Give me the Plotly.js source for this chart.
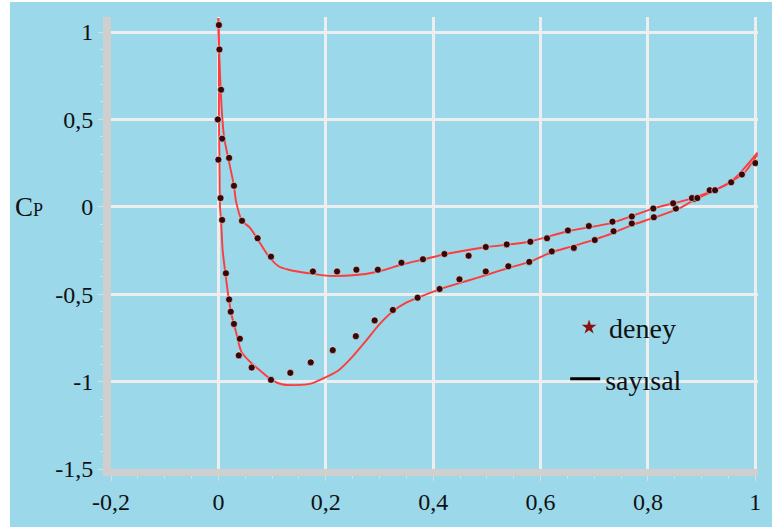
<!DOCTYPE html>
<html>
<head>
<meta charset="utf-8">
<script src="https://cdn.plot.ly/plotly-3.0.1.min.js"></script>
<style>
  html, body { margin: 0; padding: 0; background: #ffffff; width: 772px; height: 527px; overflow: hidden; }
  #chart { position: absolute; left: 10px; top: 2px; width: 762px; height: 525px; }
</style>
</head>
<body>
<div id="chart"></div>
<script>
// Numerical (sayısal) curve, suction side
const xSayisalA = [0.000, 0.001, 0.001, 0.002, 0.003, 0.005, 0.008, 0.013, 0.019, 0.024, 0.034, 0.043, 0.060, 0.079, 0.099, 0.118, 0.144, 0.174, 0.200, 0.224, 0.249, 0.274, 0.299, 0.324, 0.349, 0.380, 0.424, 0.467, 0.499, 0.540, 0.579, 0.621, 0.660, 0.697, 0.735, 0.770, 0.809, 0.854, 0.884, 0.921, 0.953, 0.981, 1.004];
const cpSayisalA = [1.08, 0.84, 0.50, 0.26, 0.00, -0.08, -0.25, -0.38, -0.52, -0.61, -0.73, -0.83, -0.89, -0.94, -0.99, -1.015, -1.02, -1.01, -0.975, -0.935, -0.86, -0.77, -0.675, -0.60, -0.55, -0.51, -0.46, -0.42, -0.39, -0.35, -0.315, -0.26, -0.225, -0.19, -0.15, -0.105, -0.065, -0.015, 0.035, 0.09, 0.14, 0.20, 0.30];
// Numerical (sayısal) curve, pressure side
const xSayisalB = [0.000, 0.002, 0.0075, 0.011, 0.019, 0.029, 0.033, 0.044, 0.059, 0.075, 0.093, 0.112, 0.131, 0.168, 0.206, 0.256, 0.299, 0.342, 0.383, 0.424, 0.499, 0.579, 0.650, 0.735, 0.809, 0.884, 0.953, 1.004];
const cpSayisalB = [1.08, 0.84, 0.50, 0.39, 0.27, 0.12, 0.03, -0.08, -0.12, -0.195, -0.28, -0.34, -0.36, -0.38, -0.395, -0.39, -0.37, -0.33, -0.30, -0.27, -0.23, -0.20, -0.14, -0.09, -0.01, 0.05, 0.14, 0.31];

// Experimental (deney) points, suction side
const xDeneyA = [0.001, 0.002, 0.005, -0.001, 0.007, 0.000, 0.004, 0.007, 0.014, 0.020, 0.023, 0.029, 0.040, 0.038, 0.062, 0.098, 0.134, 0.172, 0.213, 0.256, 0.291, 0.325, 0.371, 0.412, 0.449, 0.498, 0.540, 0.579, 0.621, 0.662, 0.701, 0.736, 0.770, 0.811, 0.852, 0.886, 0.955, 1.000];
const cpDeneyA = [1.04, 0.90, 0.67, 0.50, 0.39, 0.27, 0.05, -0.075, -0.38, -0.53, -0.60, -0.67, -0.755, -0.85, -0.92, -0.99, -0.95, -0.89, -0.82, -0.74, -0.65, -0.59, -0.52, -0.47, -0.415, -0.37, -0.34, -0.315, -0.255, -0.235, -0.19, -0.14, -0.095, -0.06, -0.01, 0.045, 0.14, 0.25];
// Experimental (deney) points, pressure side
const xDeneyB = [0.020, 0.029, 0.044, 0.073, 0.098, 0.176, 0.221, 0.257, 0.297, 0.341, 0.381, 0.421, 0.466, 0.498, 0.537, 0.581, 0.612, 0.651, 0.690, 0.734, 0.770, 0.810, 0.847, 0.882, 0.892, 0.915, 0.925, 0.975];
const cpDeneyB = [0.28, 0.12, -0.08, -0.18, -0.285, -0.37, -0.37, -0.36, -0.36, -0.32, -0.30, -0.27, -0.28, -0.23, -0.215, -0.20, -0.18, -0.135, -0.11, -0.085, -0.055, -0.01, 0.02, 0.05, 0.05, 0.095, 0.095, 0.185];

// Tick labels
const xTickVals = [-0.2, 0, 0.2, 0.4, 0.6, 0.8, 1];
const xTickText = ['-0,2', '0', '0,2', '0,4', '0,6', '0,8', '1'];
const yTickVals = [1, 0.5, 0, -0.5, -1, -1.5];
const yTickText = ['1', '0,5', '0', '-0,5', '-1', '-1,5'];

const legendDeney = 'deney';
const legendSayisal = 'sayısal';

const bg = '#9bd8ea';
const red = '#ff3b3b';
const serif = "Liberation Serif";

const traces = [
  { x: xSayisalA, y: cpSayisalA, mode: 'lines', line: { color: red, width: 1.9, shape: 'spline', smoothing: 0.7 }, showlegend: false, hoverinfo: 'skip' },
  { x: xSayisalB, y: cpSayisalB, mode: 'lines', line: { color: red, width: 1.9, shape: 'spline', smoothing: 0.7 }, showlegend: false, hoverinfo: 'skip' },
  { x: xDeneyA.concat(xDeneyB), y: cpDeneyA.concat(cpDeneyB), mode: 'markers',
    marker: { symbol: 'circle', size: 7, color: '#3a0505', line: { color: 'rgba(255,255,255,0.55)', width: 1 } },
    showlegend: false },
  { x: [null], y: [null], mode: 'markers', name: legendDeney,
    marker: { symbol: 'star', size: 11, color: '#8b1010' }, legend: 'legend' },
  { x: [null], y: [null], mode: 'lines', name: legendSayisal,
    line: { color: '#000000', width: 3 }, legend: 'legend2' }
];

const layout = {
  width: 762, height: 525,
  margin: { l: 101, r: 14, t: 15, b: 58 },
  paper_bgcolor: bg, plot_bgcolor: bg,
  font: { family: serif, size: 24, color: '#111111' },
  showlegend: true,
  xaxis: {
    range: [-0.2, 1.005], tickmode: 'array', tickvals: xTickVals, ticktext: xTickText,
    showgrid: true, gridcolor: '#eeeeee', gridwidth: 3,
    zeroline: false, showline: true, linecolor: '#cfcfcf', linewidth: 7,
    ticks: 'outside', ticklen: 5, tickwidth: 1, tickcolor: '#dddddd',
    minor: { tickmode: 'linear', tick0: -0.2, dtick: 0.05, ticks: 'outside', ticklen: 3, tickcolor: '#dddddd', showgrid: false },
    tickfont: { family: serif, size: 24, color: '#111111' }
  },
  yaxis: {
    range: [-1.5, 1.086], tickmode: 'array', tickvals: yTickVals, ticktext: yTickText,
    showgrid: true, gridcolor: '#eeeeee', gridwidth: 3,
    zeroline: false, showline: true, linecolor: '#cfcfcf', linewidth: 8,
    ticks: 'outside', ticklen: 5, tickwidth: 1, tickcolor: '#dddddd',
    minor: { tickmode: 'linear', tick0: -1.5, dtick: 0.1, ticks: 'outside', ticklen: 3, tickcolor: '#dddddd', showgrid: false },
    tickfont: { family: serif, size: 24, color: '#111111' }
  },
  legend: { x: 0.708, y: 0.313, xanchor: 'left', yanchor: 'middle', bgcolor: 'rgba(0,0,0,0)',
    font: { family: serif, size: 28, color: '#111111' } },
  legend2: { x: 0.702, y: 0.199, xanchor: 'left', yanchor: 'middle', bgcolor: 'rgba(0,0,0,0)',
    font: { family: serif, size: 28, color: '#111111' } },
  annotations: [
    { xref: 'paper', yref: 'y', x: 0, y: 0, xanchor: 'right', yanchor: 'middle', xshift: -66,
      text: 'C<span style="font-size:18px">P</span>', showarrow: false,
      font: { family: serif, size: 27, color: '#111111' } }
  ]
};

Plotly.newPlot('chart', traces, layout, { displayModeBar: false, staticPlot: true });
</script>
</body>
</html>
